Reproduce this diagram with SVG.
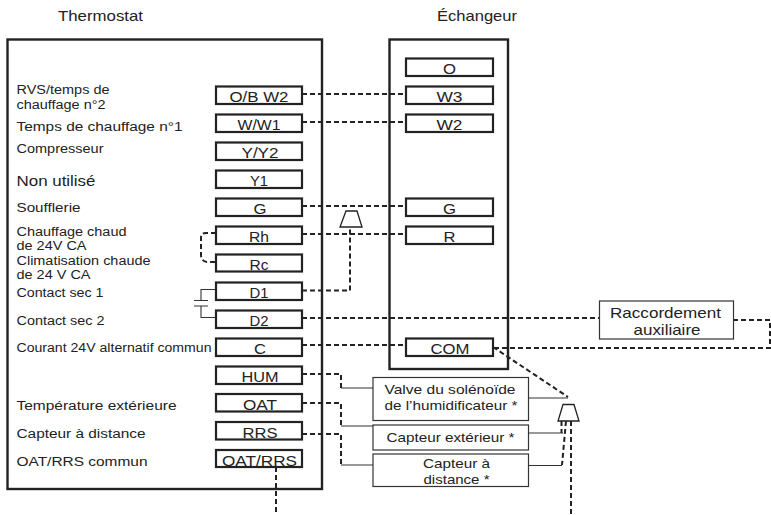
<svg xmlns="http://www.w3.org/2000/svg" width="771" height="515" viewBox="0 0 771 515">
<style>
text{font-family:"Liberation Sans",Arial,sans-serif;fill:#222;font-size:12.500px}
.t{font-size:14.500px;text-anchor:middle}
.b{font-size:13px;text-anchor:middle}
.a{font-size:14.500px;text-anchor:middle}
.h{font-size:14.500px}
.main{fill:#fff;stroke:#222;stroke-width:2.4}
.term{fill:#fff;stroke:#222;stroke-width:2.2}
.ext{fill:#fff;stroke:#333;stroke-width:1.2}
.d{fill:none;stroke:#222;stroke-width:2;stroke-dasharray:5 3}
.s{fill:none;stroke:#333;stroke-width:1.1}
.tz{fill:#fff;stroke:#222;stroke-width:1.3}
</style>
<rect width="771" height="515" fill="#fff"/>
<g id="thermostat-box"><rect class="main" x="7.500" y="39.500" width="314.500" height="449.500"/><text class="h" x="58" y="21" textLength="85" lengthAdjust="spacingAndGlyphs">Thermostat</text>
<text x="16.500" y="94" textLength="93" lengthAdjust="spacingAndGlyphs">RVS/temps de</text><text x="16.500" y="109" textLength="89" lengthAdjust="spacingAndGlyphs">chauffage n°2</text>
<text x="16.500" y="131" textLength="166" lengthAdjust="spacingAndGlyphs">Temps de chauffage n°1</text>
<text x="16.500" y="153" textLength="87" lengthAdjust="spacingAndGlyphs">Compresseur</text>
<text x="16.500" y="186" style="font-size:15px" textLength="79" lengthAdjust="spacingAndGlyphs">Non utilisé</text>
<text x="16.500" y="212" textLength="64" lengthAdjust="spacingAndGlyphs">Soufflerie</text>
<text x="16.500" y="236" textLength="110" lengthAdjust="spacingAndGlyphs">Chauffage chaud</text><text x="16.500" y="250" textLength="70" lengthAdjust="spacingAndGlyphs">de 24V CA</text>
<text x="16.500" y="264.500" textLength="134" lengthAdjust="spacingAndGlyphs">Climatisation chaude</text><text x="16.500" y="279" textLength="74" lengthAdjust="spacingAndGlyphs">de 24 V CA</text>
<text x="16.500" y="297" textLength="87" lengthAdjust="spacingAndGlyphs">Contact sec 1</text>
<text x="16.500" y="325" textLength="88" lengthAdjust="spacingAndGlyphs">Contact sec 2</text>
<text x="16.500" y="352" textLength="195" lengthAdjust="spacingAndGlyphs">Courant 24V alternatif commun</text>
<text x="16.500" y="410" textLength="160" lengthAdjust="spacingAndGlyphs">Température extérieure</text>
<text x="16.500" y="438" textLength="129" lengthAdjust="spacingAndGlyphs">Capteur à distance</text>
<text x="16.500" y="466" textLength="131" lengthAdjust="spacingAndGlyphs">OAT/RRS commun</text>
</g>
<g id="exchanger-box"><rect class="main" x="389.500" y="39.500" width="118.500" height="329.500"/><text class="h" x="437" y="21" textLength="80" lengthAdjust="spacingAndGlyphs">Échangeur</text></g>
<g id="connectors">
<path class="d" d="M302 94H406M302 122H406M302 206H406M302 234H406"/>
<path class="d" d="M216 233H206Q201 233 201 238V255Q201 261 207 262H216"/>
<path class="s" d="M216 289.500H201V300M216 317.500H201V306M194 300.500H208M194 306H208"/>
<path class="d" d="M302 290.500H350V227"/>
<path class="d" d="M302 318H599M733 320H770V348H493"/>
<path class="d" d="M302 345H406"/>
<path class="d" d="M493 347L568 397"/>
<path class="d" d="M302 374H341V388"/>
<path class="s" d="M341 388H373M528 398H568"/>
<path class="d" d="M302 403H341V426"/>
<path class="s" d="M341 426H373M528 433H563"/>
<path class="d" d="M302 434H341V465"/>
<path class="s" d="M341 465H373M528 465.500H562"/>
<path class="d" d="M561.500 421V433M566 421L562 465M571 421V515"/>
<path class="d" d="M276 467V515"/>
<path class="tz" d="M346 211H357L362 227H340Z"/>
<path class="tz" d="M563 404.500H574L579 421H558Z"/>
</g>
<g id="term-OB"><rect class="term" x="216" y="86.500" width="86" height="17.500"/><text class="t" x="259" y="102" textLength="59" lengthAdjust="spacingAndGlyphs">O/B W2</text></g>
<g id="term-W"><rect class="term" x="216" y="114.500" width="86" height="17.500"/><text class="t" x="259" y="130" textLength="43" lengthAdjust="spacingAndGlyphs">W/W1</text></g>
<g id="term-Y"><rect class="term" x="216" y="142.500" width="86" height="17.500"/><text class="t" x="260" y="158" textLength="37" lengthAdjust="spacingAndGlyphs">Y/Y2</text></g>
<g id="term-Y1"><rect class="term" x="216" y="170.500" width="86" height="17.500"/><text class="t" x="259" y="186" textLength="18" lengthAdjust="spacingAndGlyphs">Y1</text></g>
<g id="term-G"><rect class="term" x="216" y="198.500" width="86" height="17.500"/><text class="t" x="260" y="214" textLength="13" lengthAdjust="spacingAndGlyphs">G</text></g>
<g id="term-Rh"><rect class="term" x="216" y="226.500" width="86" height="17.500"/><text class="t" x="259" y="242" textLength="20" lengthAdjust="spacingAndGlyphs">Rh</text></g>
<g id="term-Rc"><rect class="term" x="216" y="254.500" width="86" height="17"/><text class="t" x="259" y="270" textLength="19" lengthAdjust="spacingAndGlyphs">Rc</text></g>
<g id="term-D1"><rect class="term" x="216" y="282.500" width="86" height="17.500"/><text class="t" x="259" y="298" textLength="19" lengthAdjust="spacingAndGlyphs">D1</text></g>
<g id="term-D2"><rect class="term" x="216" y="310.500" width="86" height="17.500"/><text class="t" x="259" y="326" textLength="19" lengthAdjust="spacingAndGlyphs">D2</text></g>
<g id="term-C"><rect class="term" x="216" y="338.500" width="86" height="17.500"/><text class="t" x="260" y="354" textLength="12" lengthAdjust="spacingAndGlyphs">C</text></g>
<g id="term-HUM"><rect class="term" x="216" y="366.500" width="86" height="17.500"/><text class="t" x="260" y="382" textLength="37" lengthAdjust="spacingAndGlyphs">HUM</text></g>
<g id="term-OAT"><rect class="term" x="216" y="394" width="86" height="17.500"/><text class="t" x="260" y="410" textLength="34" lengthAdjust="spacingAndGlyphs">OAT</text></g>
<g id="term-RRS"><rect class="term" x="216" y="422" width="86" height="17.500"/><text class="t" x="260" y="438" textLength="35" lengthAdjust="spacingAndGlyphs">RRS</text></g>
<g id="term-OATRRS"><rect class="term" x="216" y="450" width="86" height="17"/><text class="t" x="259.500" y="466" textLength="75" lengthAdjust="spacingAndGlyphs">OAT/RRS</text></g>
<g id="ex-O"><rect class="term" x="406" y="58.500" width="87" height="17.500"/><text class="t" x="449.500" y="74" textLength="13" lengthAdjust="spacingAndGlyphs">O</text></g>
<g id="ex-W3"><rect class="term" x="406" y="86.500" width="87" height="17.500"/><text class="t" x="449.500" y="102" textLength="26" lengthAdjust="spacingAndGlyphs">W3</text></g>
<g id="ex-W2"><rect class="term" x="406" y="114.500" width="87" height="17.500"/><text class="t" x="449.500" y="130" textLength="26" lengthAdjust="spacingAndGlyphs">W2</text></g>
<g id="ex-G"><rect class="term" x="406" y="198.500" width="87" height="17.500"/><text class="t" x="449.500" y="214" textLength="13" lengthAdjust="spacingAndGlyphs">G</text></g>
<g id="ex-R"><rect class="term" x="406" y="226.500" width="87" height="17.500"/><text class="t" x="449.500" y="242" textLength="12" lengthAdjust="spacingAndGlyphs">R</text></g>
<g id="ex-COM"><rect class="term" x="406" y="338.500" width="87" height="17.500"/><text class="t" x="450" y="354" textLength="39" lengthAdjust="spacingAndGlyphs">COM</text></g>
<g id="aux"><rect class="ext" x="599.500" y="301" width="134" height="38"/><text class="a" x="665.500" y="318" textLength="111" lengthAdjust="spacingAndGlyphs">Raccordement</text><text class="a" x="667" y="335" textLength="67" lengthAdjust="spacingAndGlyphs">auxiliaire</text></g>
<g id="valve"><rect class="ext" x="373" y="377.500" width="155.500" height="43"/><text class="b" x="450" y="394" textLength="131" lengthAdjust="spacingAndGlyphs">Valve du solénoïde</text><text class="b" x="451" y="409.500" textLength="133" lengthAdjust="spacingAndGlyphs">de l’humidificateur *</text></g>
<g id="ext-sensor"><rect class="ext" x="373" y="425" width="155.500" height="25"/><text class="b" x="450.500" y="442" textLength="128" lengthAdjust="spacingAndGlyphs">Capteur extérieur *</text></g>
<g id="remote"><rect class="ext" x="373" y="454" width="155.500" height="32.500"/><text class="b" x="456.500" y="468" textLength="67" lengthAdjust="spacingAndGlyphs">Capteur à</text><text class="b" x="456.500" y="483.500" textLength="66" lengthAdjust="spacingAndGlyphs">distance *</text></g>
</svg>
